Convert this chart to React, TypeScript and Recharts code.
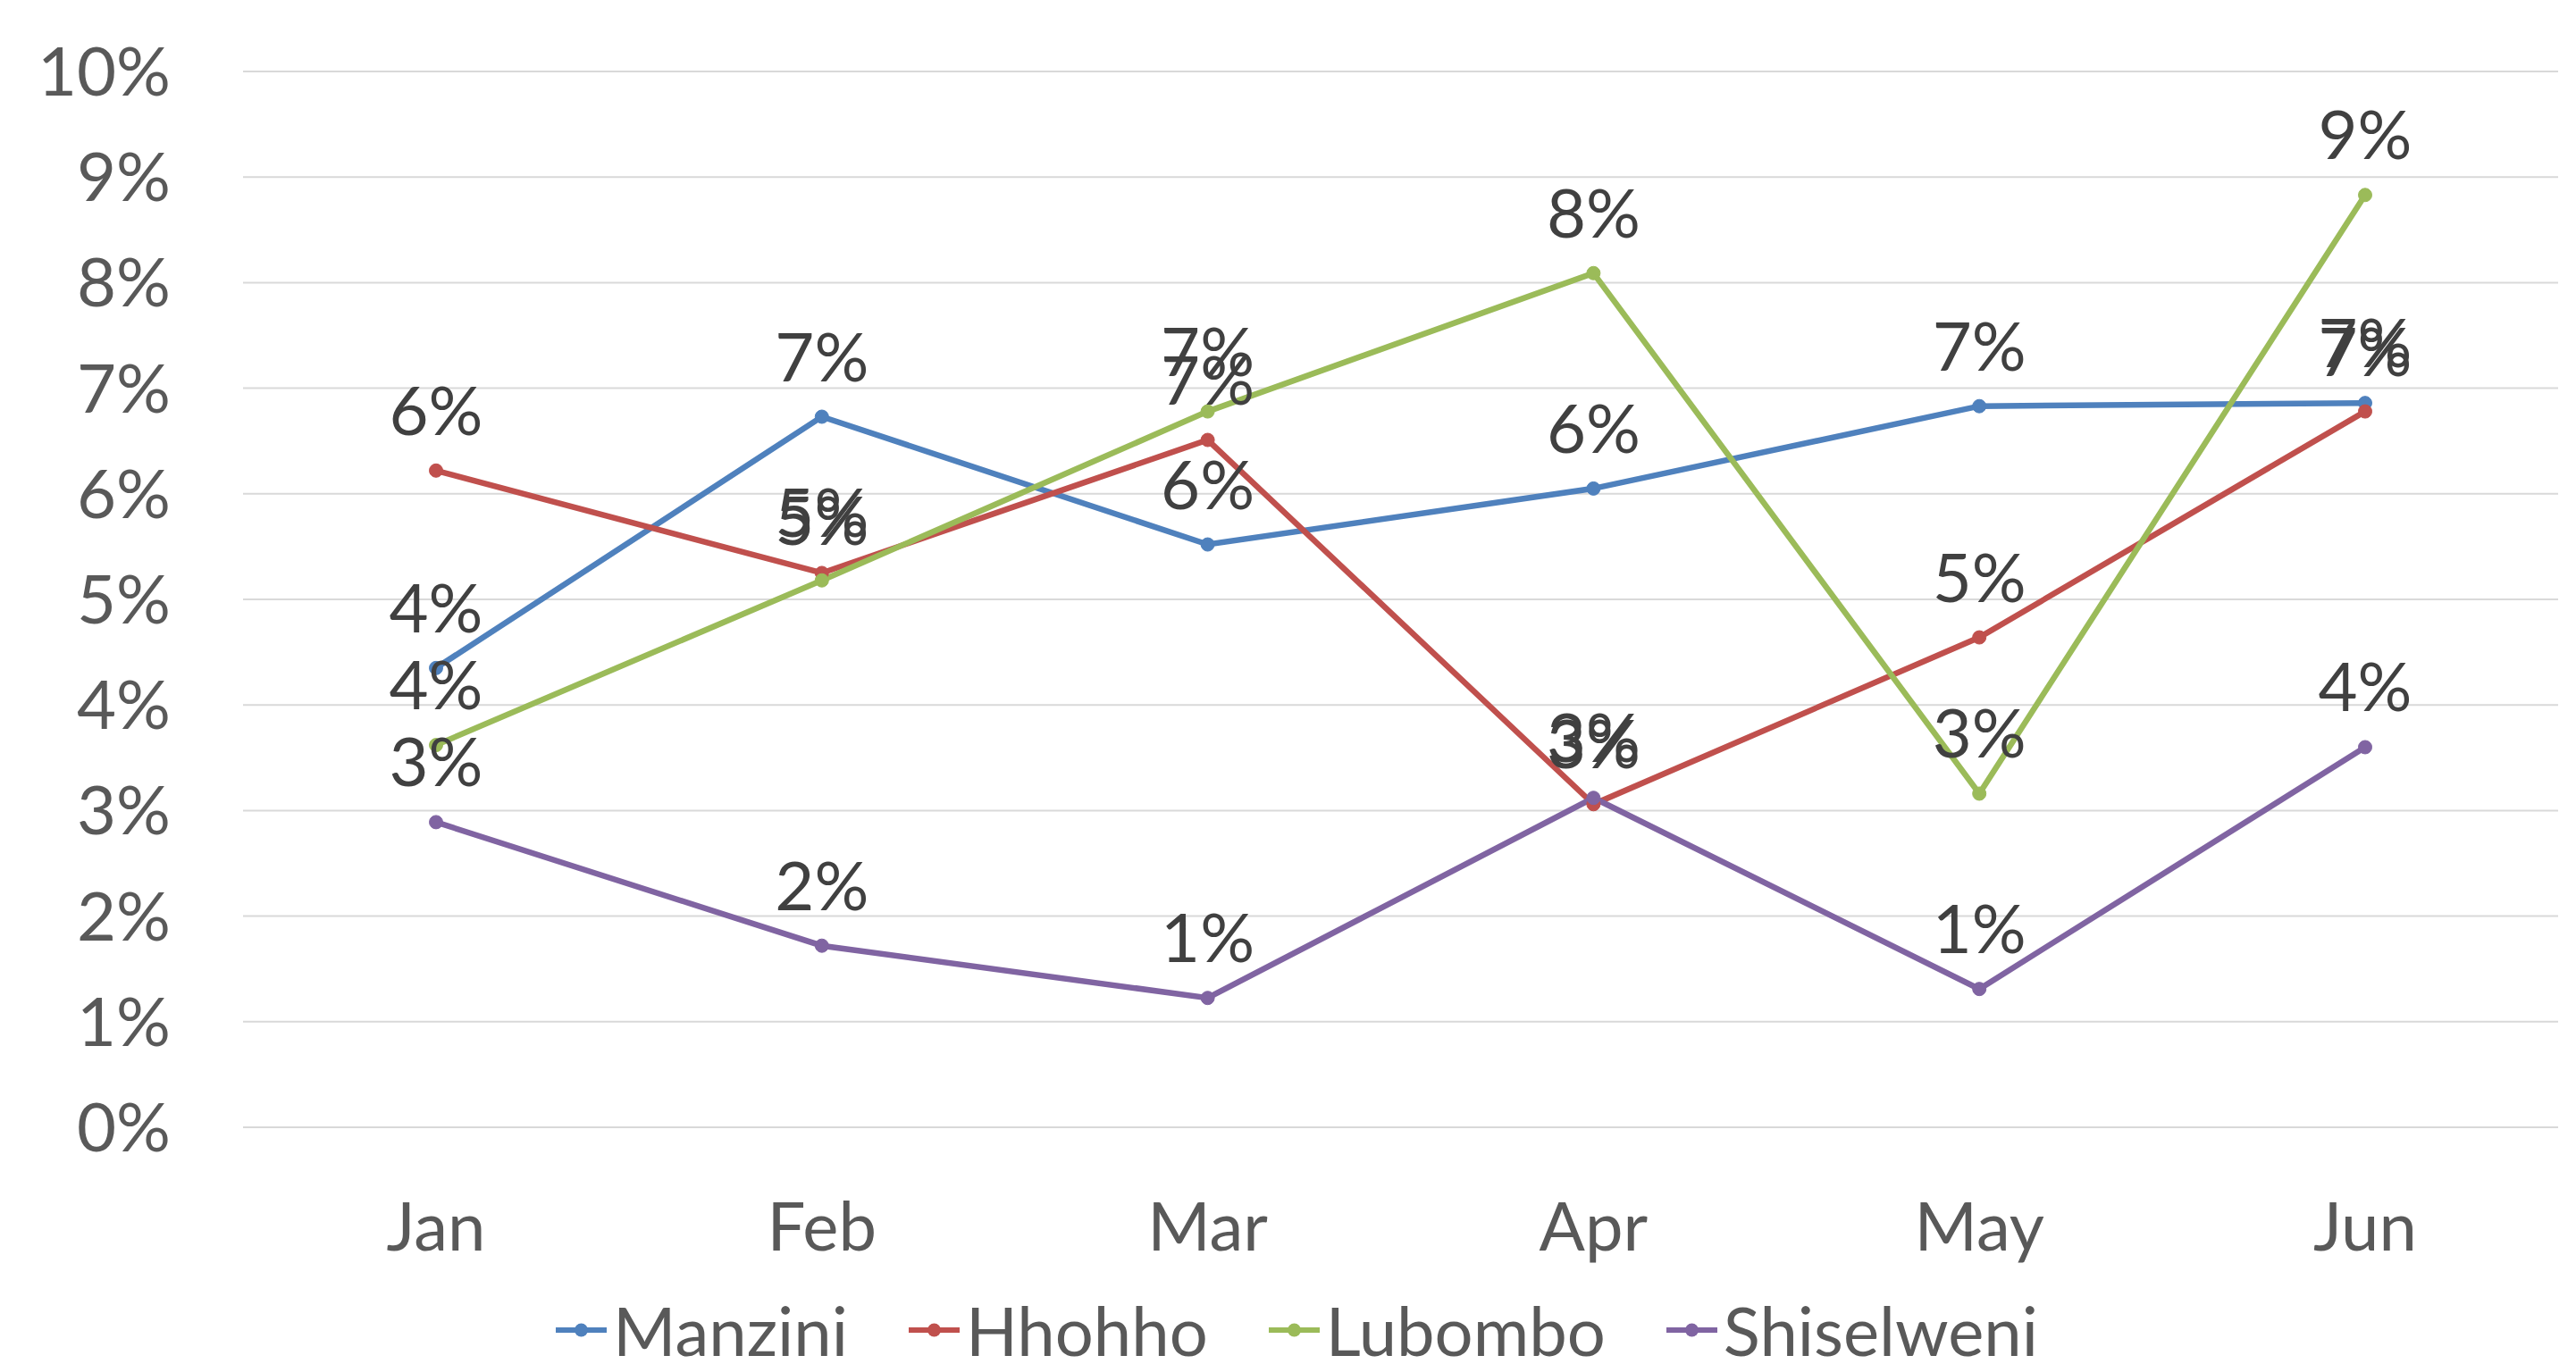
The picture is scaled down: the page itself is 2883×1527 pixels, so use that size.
import { LineChart, Line, XAxis, YAxis, CartesianGrid, Legend, LabelList } from 'recharts';

// monthly rates (%)
const months = ['Jan', 'Feb', 'Mar', 'Apr', 'May', 'Jun'];
const manzini = [4.35, 6.73, 5.52, 6.05, 6.83, 6.86];
const hhohho = [6.22, 5.25, 6.51, 3.06, 4.64, 6.78];
const lubombo = [3.62, 5.18, 6.78, 8.09, 3.16, 8.83];
const shiselweni = [2.89, 1.72, 1.225, 3.12, 1.31, 3.6];
const yTicks = [0, 1, 2, 3, 4, 5, 6, 7, 8, 9, 10];

const series = [
  { name: 'Manzini', values: manzini, color: '#4F81BD' },
  { name: 'Hhohho', values: hhohho, color: '#C0504D' },
  { name: 'Lubombo', values: lubombo, color: '#9BBB59' },
  { name: 'Shiselweni', values: shiselweni, color: '#8064A2' },
];

const data = months.map((month, i) => {
  const row: Record<string, string | number> = { month };
  series.forEach((s) => {
    row[s.name] = s.values[i];
  });
  return row;
});

const FONT = 'Lato, "Open Sans", sans-serif';

// legend keeps the series order (Excel style: line with a dot in the middle)
function renderLegend() {
  return (
    <div
      style={{
        display: 'flex',
        justifyContent: 'center',
        height: 80,
        paddingLeft: 40,
        paddingTop: 4,
        boxSizing: 'border-box',
        fontFamily: FONT,
      }}
    >
      {series.map((s, i) => (
        <div
          key={s.name}
          style={{
            display: 'flex',
            alignItems: 'center',
            marginRight: i < series.length - 1 ? 68 : 0,
          }}
        >
          <svg width={57} height={20}>
            <line x1={0} y1={10} x2={57} y2={10} stroke={s.color} strokeWidth={6} />
            <circle cx={28.5} cy={10} r={7.5} fill={s.color} />
          </svg>
          <span style={{ marginLeft: 7, fontSize: 76, lineHeight: '72px', color: '#595959' }}>
            {s.name}
          </span>
        </div>
      ))}
    </div>
  );
}

export default function App() {
  return (
    <div style={{ position: 'absolute', left: 0, top: 0 }}>
      <LineChart
        width={2883}
        height={1527}
        data={data}
        margin={{ top: 80, right: 20, left: 0, bottom: 0 }}
        style={{ fontFamily: FONT }}
      >
        <CartesianGrid vertical={false} stroke="#D9D9D9" strokeWidth={2} />
        <XAxis
          dataKey="month"
          height={185}
          padding={{ left: 216, right: 216 }}
          axisLine={false}
          tickLine={false}
          tickSize={0}
          tickMargin={84}
          tick={{ fill: '#595959', fontSize: 76 }}
        />
        <YAxis
          width={272}
          domain={[0, 10]}
          ticks={yTicks}
          tickFormatter={(v) => `${v}%`}
          axisLine={false}
          tickLine={false}
          tickSize={0}
          tickMargin={81}
          tick={{ fill: '#595959', fontSize: 76 }}
        />
        <Legend verticalAlign="bottom" content={renderLegend} />
        {series.map((s) => (
          <Line
            key={s.name}
            type="linear"
            dataKey={s.name}
            stroke={s.color}
            strokeWidth={6.5}
            dot={{ r: 7.5, fill: s.color, stroke: s.color, strokeWidth: 1 }}
            activeDot={false}
            isAnimationActive={false}
          >
            <LabelList
              dataKey={s.name}
              position="top"
              offset={40}
              formatter={(v: any) => `${Math.round(Number(v))}%`}
              style={{ fill: '#404040', fontSize: 76 }}
            />
          </Line>
        ))}
      </LineChart>
    </div>
  );
}
